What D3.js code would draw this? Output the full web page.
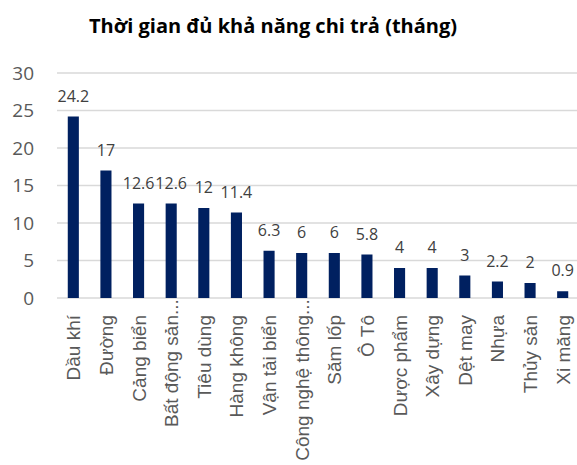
<!DOCTYPE html>
<html>
<head>
<meta charset="utf-8">
<script src="https://cdn.jsdelivr.net/npm/d3@7"></script>
<style>
body { margin: 0; background: #fff; }
.grid line { stroke: #d9d9d9; stroke-width: 1.5; }
.bar { fill: #002060; }
.val { font-family: "Open Sans", sans-serif; font-size: 16px; fill: #404040; }
.ytick { font-family: "Open Sans", sans-serif; font-size: 19px; fill: #595959; }
.xlab { font-family: "Liberation Sans", Arial, sans-serif; font-size: 19px; fill: #595959; }
.title { font-family: "Open Sans", sans-serif; font-size: 20px; font-weight: bold; fill: #000; }
</style>
</head>
<body>
<script>
var categories = ["Dầu khí","Đường","Cảng biển","Bất động  sản...","Tiêu dùng","Hàng không","Vận tải biển","Công nghệ thông...","Săm lốp","Ô Tô","Dược phẩm","Xây dựng","Dệt may","Nhựa","Thủy sản","Xi măng"];
var values = [24.2, 17, 12.6, 12.6, 12, 11.4, 6.3, 6, 6, 5.8, 4, 4, 3, 2.2, 2, 0.9];
var yTicks = [0, 5, 10, 15, 20, 25, 30];

var loadChart = function(){
    var svg = d3.select("body").append("svg")
        .attr("width", 577)
        .attr("height", 465);

    var xScale = d3.scaleBand().domain(categories).range([57, 579]).paddingInner(0.66).paddingOuter(0.33);
    var yScale = d3.scaleLinear().domain([0, 30]).range([298, 73]);

    svg.append("text").attr("class", "title")
        .attr("x", 273).attr("y", 33)
        .attr("text-anchor", "middle")
        .text("Thời gian đủ khả năng chi trả (tháng)");

    svg.append("g").attr("class", "grid")
        .selectAll("line").data(yTicks).enter().append("line")
        .attr("x1", 57).attr("x2", 577)
        .attr("y1", function(d){ return yScale(d); })
        .attr("y2", function(d){ return yScale(d); });

    svg.append("g").selectAll("text").data(yTicks).enter().append("text")
        .attr("class", "ytick")
        .attr("x", 34)
        .attr("y", function(d){ return yScale(d); })
        .attr("dy", "0.35em")
        .attr("text-anchor", "end")
        .text(function(d){ return d; });

    svg.append("g").selectAll("rect").data(values).enter().append("rect")
        .attr("class", "bar")
        .attr("x", function(d,i){ return xScale(categories[i]); })
        .attr("width", xScale.bandwidth())
        .attr("y", function(d){ return yScale(d); })
        .attr("height", function(d){ return yScale(0) - yScale(d); });

    svg.append("g").selectAll("text").data(values).enter().append("text")
        .attr("class", "val")
        .attr("x", function(d,i){ return xScale(categories[i]) + xScale.bandwidth()/2; })
        .attr("y", function(d){ return yScale(d) - 15; })
        .attr("text-anchor", "middle")
        .text(function(d){ return d; });

    // truncated labels: the "..." runs past the usual label end
    var tmp = svg.append("text").attr("class", "xlab").text("...");
    var dotsW = tmp.node().getComputedTextLength();
    tmp.remove();

    svg.append("g").selectAll("text").data(categories).enter().append("text")
        .attr("class", "xlab")
        .attr("text-anchor", "end")
        .attr("transform", function(d){
            var x = xScale(d) + xScale.bandwidth()/2 + 7;
            var y = d.slice(-3) === "..." ? 315 - dotsW : 315;
            return "translate(" + x + "," + y + ") rotate(-90)";
        })
        .text(function(d){ return d; });
};

window.onload = loadChart;
</script>
</body>
</html>
